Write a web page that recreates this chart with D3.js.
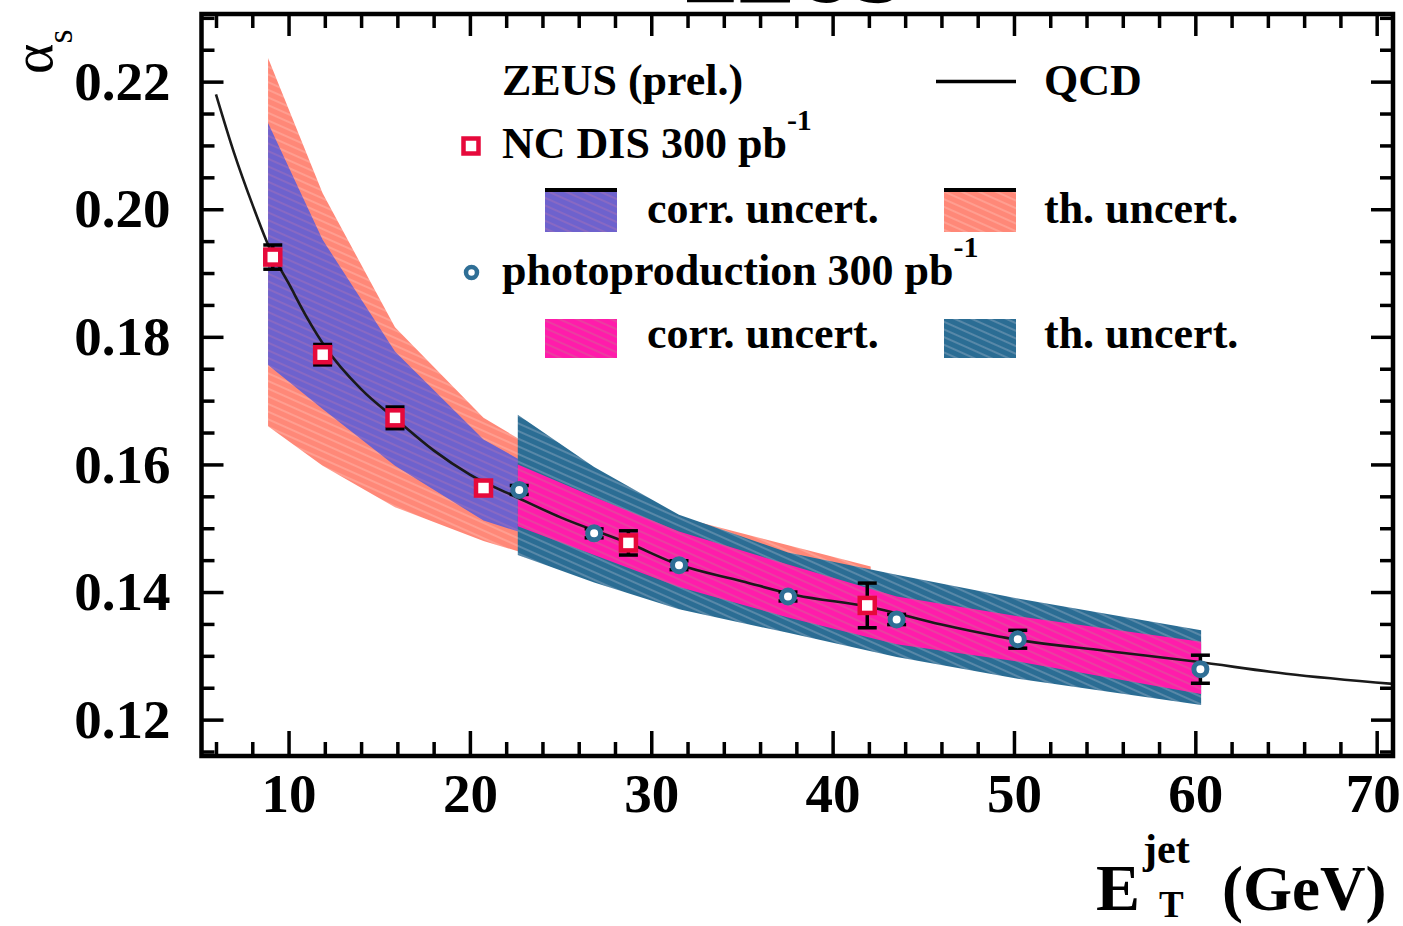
<!DOCTYPE html>
<html><head><meta charset="utf-8">
<script src="https://cdn.jsdelivr.net/npm/d3@7"></script>
<style>body{margin:0;background:#fff}svg{display:block}</style>
</head><body><svg id="c" width="1403" height="926"></svg>
<script>
// QCD curve
const qcdE = [6.0, 7.0, 8.0, 9.0, 10.0, 11.0, 12.0, 14.0, 16.0, 18.0, 20.0, 22.7, 25.0, 28.8, 31.5, 35.0, 38.0, 42.0, 46.0, 50.0, 55.0, 60.0, 65.0, 70.9];
const qcdA = [0.2180, 0.2088, 0.2008, 0.1936, 0.1884, 0.1831, 0.1785, 0.1718, 0.1669, 0.1622, 0.1584, 0.1547, 0.1517, 0.1476, 0.1443, 0.1417, 0.1395, 0.1377, 0.1349, 0.1326, 0.1308, 0.1291, 0.1272, 0.1256];
// NC DIS points
const disE = [9.13, 11.88, 15.87, 20.75, 28.74, 41.91];
const disA = [0.1925, 0.1772, 0.1673, 0.1563, 0.1477, 0.1379];
const disErr = [0.0019, 0.0016, 0.0017, 0.0008, 0.0019, 0.0035];
// photoproduction points
const phE = [22.72, 26.85, 31.53, 37.54, 43.53, 50.21, 60.28];
const phA = [0.1560, 0.1492, 0.1442, 0.1393, 0.1357, 0.1326, 0.1279];
const phErr = [0.0007, 0.0007, 0.0007, 0.0007, 0.0008, 0.0014, 0.0022];
// NC DIS bands
const disBandE = [8.87, 11.88, 15.87, 20.75, 28.74, 42.1];
const disThUp = [0.2237, 0.2025, 0.1815, 0.1673, 0.1538, 0.1440];
const disCorrUp = [0.2135, 0.1952, 0.1777, 0.1639, 0.1512, 0.1415];
const disCorrLo = [0.1756, 0.1687, 0.1598, 0.1512, 0.1440, 0.1345];
const disThLo = [0.1660, 0.1598, 0.1533, 0.1480, 0.1412, 0.1320];
// photoproduction bands
const phBandE = [22.64, 26.85, 31.53, 37.54, 43.53, 50.21, 60.32];
const phThUp = [0.1678, 0.1596, 0.1521, 0.1462, 0.1427, 0.1390, 0.1340];
const phCorrUp = [0.1600, 0.1549, 0.1495, 0.1443, 0.1393, 0.1362, 0.1322];
const phCorrLo = [0.1503, 0.1458, 0.1408, 0.1360, 0.1318, 0.1291, 0.1240];
const phThLo = [0.1458, 0.1415, 0.1373, 0.1336, 0.1298, 0.1264, 0.1223];
// ticks
const xMajor = [10, 20, 30, 40, 50, 60, 70];
const xMinor = d3.range(6, 71, 2).filter(v => v % 10 !== 0);
const yMajor = [0.12, 0.14, 0.16, 0.18, 0.20, 0.22];
const yMinor = [0.115,0.125,0.13,0.135,0.145,0.15,0.155,0.165,0.17,0.175,0.185,0.19,0.195,0.205,0.21,0.215,0.225,0.23];

const svg = d3.select("#c");
const L = 201.5, R = 1393, T = 14, B = 756;
const x = d3.scaleLinear([5.2, 70.9], [L, R]);
const y = d3.scaleLinear([0.1143, 0.2306], [B, T]);
const SERIF = "'Liberation Serif','Times New Roman',serif";

// patterns
const defs = svg.append("defs");
function pat(id, base, stripe) {
  const p = defs.append("pattern").attr("id", id).attr("patternUnits", "userSpaceOnUse")
    .attr("width", 7).attr("height", 7).attr("patternTransform", "rotate(24)");
  p.append("rect").attr("width", 7).attr("height", 7).attr("fill", base);
  p.append("rect").attr("y", 0).attr("width", 7).attr("height", 2).attr("fill", stripe);
}
pat("pSalmon", "#ff8878", "#ff9e90");
pat("pPurple", "#6e62cd", "#8869c3");
pat("pTeal", "#2b6d94", "#5888a8");
pat("pPink", "#ff1cab", "#ea3ea0");
defs.append("clipPath").attr("id", "clip").append("rect")
  .attr("x", L).attr("y", T).attr("width", R - L).attr("height", B - T);

const g = svg.append("g").attr("clip-path", "url(#clip)");
function band(E, lo, hi, fill) {
  const data = E.map((e, i) => ({e, lo: lo[i], hi: hi[i]}));
  g.append("path").datum(data).attr("fill", fill)
    .attr("d", d3.area().x(d => x(d.e)).y0(d => y(d.lo)).y1(d => y(d.hi)));
}
band(disBandE, disThLo, disThUp, "url(#pSalmon)");
band(disBandE, disCorrLo, disCorrUp, "url(#pPurple)");
band(phBandE, phThLo, phThUp, "url(#pTeal)");
band(phBandE, phCorrLo, phCorrUp, "url(#pPink)");

// QCD curve
g.append("path").datum(qcdE.map((e, i) => [e, qcdA[i]]))
  .attr("fill", "none").attr("stroke", "#1a1a1a").attr("stroke-width", 2.6)
  .attr("d", d3.line().x(d => x(d[0])).y(d => y(d[1])).curve(d3.curveMonotoneX));

// error bars
function errs(E, A, Er) {
  E.forEach((e, i) => {
    const cx = x(e), y1 = y(A[i] + Er[i]), y2 = y(A[i] - Er[i]);
    g.append("line").attr("x1", cx).attr("x2", cx).attr("y1", y1).attr("y2", y2)
      .attr("stroke", "#000").attr("stroke-width", 3.5);
    [y1, y2].forEach(yy => g.append("line").attr("x1", cx - 9.5).attr("x2", cx + 9.5)
      .attr("y1", yy).attr("y2", yy).attr("stroke", "#000").attr("stroke-width", 3.5));
  });
}
errs(disE, disA, disErr);
errs(phE, phA, phErr);
// markers
g.selectAll(".dis").data(disE).join("rect")
  .attr("x", (d) => x(d) - 7.5).attr("y", (d, i) => y(disA[i]) - 7.5)
  .attr("width", 15).attr("height", 15).attr("fill", "#fff")
  .attr("stroke", "#e6093b").attr("stroke-width", 4.5);
g.selectAll(".ph").data(phE).join("circle")
  .attr("cx", d => x(d)).attr("cy", (d, i) => y(phA[i])).attr("r", 6.5)
  .attr("fill", "#fff").attr("stroke", "#2f6f96").attr("stroke-width", 5);

// axes (ticks inside, four sides)
function styleAxis(sel) {
  sel.select(".domain").remove();
  sel.selectAll("line").attr("stroke", "#000").attr("stroke-width", 3.5);
  sel.selectAll("text").attr("font-family", SERIF).attr("font-weight", "bold")
    .attr("font-size", 55).attr("fill", "#000");
}
const xAxisG = svg.append("g").attr("transform", `translate(0,${B})`)
  .call(d3.axisBottom(x).tickValues(xMajor).tickSize(-25).tickPadding(17).tickFormat(d3.format("d"))).call(styleAxis);
xAxisG.selectAll("text").filter(d => d === 70).attr("dx", -4);
svg.append("g").attr("transform", `translate(0,${B})`)
  .call(d3.axisBottom(x).tickValues(xMinor).tickSize(-14).tickFormat("")).call(styleAxis);
svg.append("g").attr("transform", `translate(0,${T})`)
  .call(d3.axisTop(x).tickValues(xMajor).tickSize(-22).tickFormat("")).call(styleAxis);
svg.append("g").attr("transform", `translate(0,${T})`)
  .call(d3.axisTop(x).tickValues(xMinor).tickSize(-14).tickFormat("")).call(styleAxis);
svg.append("g").attr("transform", `translate(${L},0)`)
  .call(d3.axisLeft(y).tickValues(yMajor).tickSize(-22).tickPadding(31).tickFormat(d3.format(".2f"))).call(styleAxis);
svg.append("g").attr("transform", `translate(${L},0)`)
  .call(d3.axisLeft(y).tickValues(yMinor).tickSize(-13).tickFormat("")).call(styleAxis);
svg.append("g").attr("transform", `translate(${R},0)`)
  .call(d3.axisRight(y).tickValues(yMajor).tickSize(-22).tickFormat("")).call(styleAxis);
svg.append("g").attr("transform", `translate(${R},0)`)
  .call(d3.axisRight(y).tickValues(yMinor).tickSize(-13).tickFormat("")).call(styleAxis);

svg.append("rect").attr("x", L).attr("y", T).attr("width", R - L).attr("height", B - T)
  .attr("fill", "none").attr("stroke", "#000").attr("stroke-width", 4.5);

// title (mostly cut off at the top, as in the reference)
svg.append("text").attr("x", 683).attr("y", 2.5).attr("font-family", SERIF)
  .attr("font-weight", "bold").attr("font-size", 84).text("ZEUS");

// y label alpha_s
const yl = svg.append("text").attr("transform", "translate(52,74) rotate(-90)")
  .attr("font-family", SERIF).attr("fill", "#000");
yl.append("tspan").attr("font-size", 58).text("α");
yl.append("tspan").attr("font-size", 36).attr("dy", 20).text("s");

// x label
const xl = svg.append("g").attr("font-family", SERIF).attr("font-weight", "bold").attr("fill", "#000");
xl.append("text").attr("x", 1096).attr("y", 910).attr("font-size", 66).text("E");
xl.append("text").attr("x", 1143).attr("y", 863).attr("font-size", 42).text("jet");
xl.append("text").attr("x", 1159).attr("y", 917).attr("font-size", 37).text("T");
xl.append("text").attr("x", 1222).attr("y", 910).attr("font-size", 63).text("(GeV)");

// legend
const lg = svg.append("g").attr("font-family", SERIF).attr("font-weight", "bold")
  .attr("font-size", 44).attr("fill", "#000");
lg.append("text").attr("x", 502).attr("y", 95).text("ZEUS (prel.)");
lg.append("line").attr("x1", 936).attr("x2", 1016).attr("y1", 81.5).attr("y2", 81.5)
  .attr("stroke", "#000").attr("stroke-width", 3.6);
lg.append("text").attr("x", 1044).attr("y", 95).text("QCD");
lg.append("rect").attr("x", 463.5).attr("y", 138.5).attr("width", 15).attr("height", 15)
  .attr("fill", "#fff").attr("stroke", "#e6093b").attr("stroke-width", 4.5);
const t1 = lg.append("text").attr("x", 502).attr("y", 158);
t1.append("tspan").text("NC DIS 300 pb");
t1.append("tspan").attr("font-size", 30).attr("dy", -28).text("-1");
function swatch(x0, y0, h, fill, topLine) {
  lg.append("rect").attr("x", x0).attr("y", y0).attr("width", 72).attr("height", h).attr("fill", fill);
  if (topLine) lg.append("rect").attr("x", x0).attr("y", y0).attr("width", 72).attr("height", 4).attr("fill", "#000");
}
swatch(545, 188, 44, "url(#pPurple)", true);
lg.append("text").attr("x", 647).attr("y", 223).text("corr. uncert.");
swatch(944, 188, 44, "url(#pSalmon)", true);
lg.append("text").attr("x", 1044).attr("y", 223).text("th. uncert.");
lg.append("circle").attr("cx", 471.5).attr("cy", 272.5).attr("r", 5.5)
  .attr("fill", "#fff").attr("stroke", "#2f6f96").attr("stroke-width", 4.5);
const t2 = lg.append("text").attr("x", 502).attr("y", 285);
t2.append("tspan").text("photoproduction 300 pb");
t2.append("tspan").attr("font-size", 30).attr("dy", -28).text("-1");
swatch(545, 319, 39, "url(#pPink)", false);
lg.append("text").attr("x", 647).attr("y", 348).text("corr. uncert.");
swatch(944, 319, 39, "url(#pTeal)", false);
lg.append("text").attr("x", 1044).attr("y", 348).text("th. uncert.");
</script>
</body></html>
